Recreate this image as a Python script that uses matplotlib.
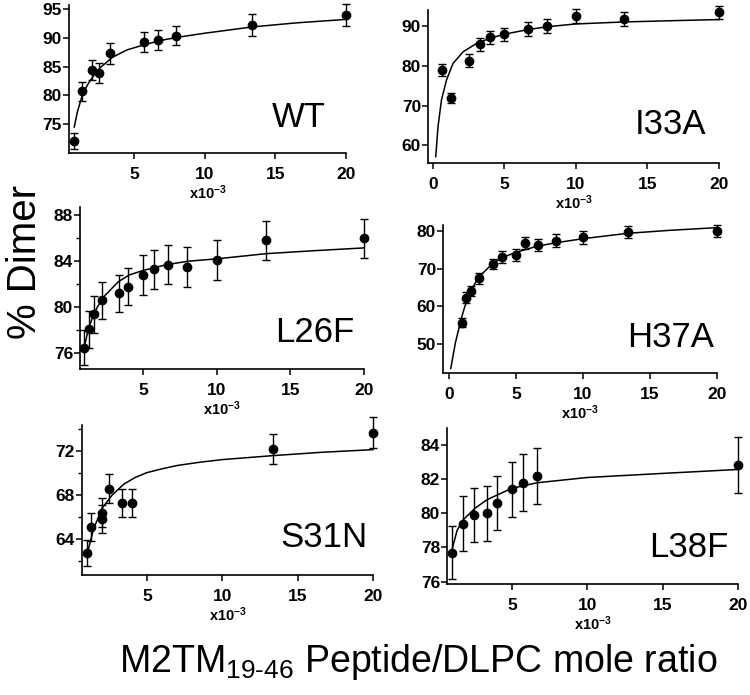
import matplotlib
matplotlib.use("Agg")
from matplotlib import pyplot as plt

plt.rcParams['font.family'] = ['Liberation Sans', 'DejaVu Sans']
plt.rcParams['mathtext.fontset'] = 'custom'
plt.rcParams['mathtext.rm'] = 'Liberation Sans'
plt.rcParams['mathtext.bf'] = 'Liberation Sans:bold'
plt.rcParams['mathtext.default'] = 'regular'

# ---- data (x in units of 1e-3) ----
wt_x = [0.77, 1.33, 2.0, 2.5, 3.33, 5.71, 6.67, 8.0, 13.33, 20.0]
wt_y = [72.1, 80.7, 84.4, 83.9, 87.3, 89.3, 89.6, 90.4, 92.2, 93.9]
wt_err = [1.4, 1.6, 1.7, 1.7, 1.8, 1.7, 1.7, 1.7, 1.9, 1.9]
wt_fit_x = [0.77, 1.0, 1.31, 1.7, 2.1, 2.6, 3.46, 4.5, 5.73, 7.0, 8.1, 10, 13.4, 16.5, 20]
wt_fit_y = [74.5, 77.2, 79.8, 81.8, 83.3, 84.8, 86.6, 87.9, 88.8, 89.6, 90.1, 90.8, 91.9, 92.6, 93.2]

i33a_x = [0.67, 1.25, 2.5, 3.33, 4.0, 5.0, 6.67, 8.0, 10.0, 13.33, 20.0]
i33a_y = [78.9, 71.9, 81.3, 85.4, 87.1, 87.9, 89.2, 90.0, 92.5, 91.8, 93.4]
i33a_err = [1.5, 1.3, 1.6, 1.6, 1.6, 1.7, 1.7, 1.7, 1.7, 1.7, 1.7]
i33a_fit_x = [0.21, 0.37, 0.61, 0.96, 1.42, 2.12, 3.06, 4.0, 4.97, 6.68, 8.0, 10, 13.37, 16.5, 20]
i33a_fit_y = [57.2, 64.7, 71.4, 76.4, 80.6, 83.5, 85.6, 86.9, 87.9, 89.1, 89.8, 90.5, 91.0, 91.3, 91.6]

l26f_x = [1.0, 1.33, 1.67, 2.22, 3.33, 4.0, 5.0, 5.71, 6.67, 8.0, 10.0, 13.33, 20.0]
l26f_y = [76.5, 78.1, 79.4, 80.6, 81.2, 81.8, 82.8, 83.3, 83.7, 83.5, 84.1, 85.8, 86.0]
l26f_err = [1.5, 1.6, 1.6, 1.6, 1.6, 1.6, 1.7, 1.7, 1.7, 1.7, 1.7, 1.7, 1.7]
l26f_fit_x = [1.0, 1.33, 1.67, 2.24, 3.3, 4.05, 5.02, 6.61, 8.09, 10, 13.35, 16.5, 20]
l26f_fit_y = [76.6, 78.3, 79.5, 80.8, 82.2, 82.8, 83.2, 83.7, 84.0, 84.2, 84.65, 84.9, 85.15]

h37a_x = [1.0, 1.25, 1.67, 2.22, 3.33, 4.0, 5.0, 5.71, 6.67, 8.0, 10.0, 13.33, 20.0]
h37a_y = [55.7, 62.3, 64.1, 67.4, 71.2, 73.0, 73.6, 76.8, 76.2, 77.4, 78.2, 79.7, 79.9]
h37a_err = [1.2, 1.4, 1.4, 1.4, 1.4, 1.6, 1.6, 1.6, 1.6, 1.6, 1.6, 1.6, 1.6]
h37a_fit_x = [0.15, 0.5, 0.99, 1.2, 1.64, 2.19, 3.27, 4.01, 4.93, 6.6, 7.97, 10.04, 13.33, 16.5, 20]
h37a_fit_y = [43.6, 50.5, 57.5, 60.0, 64.0, 67.6, 71.3, 72.9, 74.2, 75.9, 76.8, 77.9, 79.3, 80.1, 80.8]

s31n_x = [1.0, 1.25, 2.0, 2.0, 2.5, 3.33, 4.0, 13.33, 20.0]
s31n_y = [62.7, 65.06, 66.4, 65.8, 68.6, 67.3, 67.3, 72.2, 73.7]
s31n_err = [1.2, 1.3, 1.3, 1.3, 1.3, 1.3, 1.3, 1.4, 1.4]
s31n_fit_x = [1.06, 1.45, 2.01, 2.68, 3.46, 4.2, 4.99, 6.0, 6.99, 8.5, 10, 13.33, 16.5, 20]
s31n_fit_y = [62.85, 64.9, 66.8, 68.0, 69.0, 69.6, 70.05, 70.4, 70.7, 71.0, 71.24, 71.6, 71.9, 72.15]

l38f_x = [1.0, 1.75, 2.5, 3.33, 4.0, 5.0, 5.71, 6.67, 20.0]
l38f_y = [77.7, 79.4, 79.9, 80.0, 80.6, 81.4, 81.8, 82.2, 82.85]
l38f_err = [1.55, 1.6, 1.6, 1.6, 1.6, 1.6, 1.65, 1.65, 1.65]
l38f_fit_x = [1.02, 1.37, 1.75, 2.56, 3.36, 4.98, 6.66, 10, 15, 20]
l38f_fit_y = [77.84, 79.0, 79.6, 80.3, 80.8, 81.46, 81.79, 82.1, 82.34, 82.57]

W, H = 750, 695
fig = plt.figure(figsize=(W / 100, H / 100), dpi=100)


def panel(box, x, y, err, fx, fy, xlim, ylim, xticks, yticks, name, name_at, minor=None):
    l, t, r, b = box
    ax = fig.add_axes([l / W, 1 - b / H, (r - l) / W, (b - t) / H])
    ax.plot(fx, fy, color='black', lw=1.1, clip_on=False)
    ax.errorbar(x, y, yerr=err, fmt='o', color='black', ms=6, capsize=3,
                elinewidth=1.0, capthick=1.0, clip_on=False)
    ax.set_xlim(xlim)
    ax.set_ylim(ylim)
    ax.set_xticks(xticks)
    ax.set_yticks(yticks)
    if minor is not None:
        ax.set_yticks(minor, minor=True)
    for s in ['top', 'right']:
        ax.spines[s].set_visible(False)
    for s in ['left', 'bottom']:
        ax.spines[s].set_linewidth(1.2)
    ax.tick_params(direction='out', length=4, width=1.1, labelsize=12.5)
    ax.tick_params(axis='x', pad=6)
    ax.tick_params(axis='y', pad=1)
    ax.tick_params(which='minor', direction='out', length=3, width=1.0)
    for lab in ax.get_xticklabels() + ax.get_yticklabels():
        lab.set_fontweight('bold')
    ax.set_xlabel('x10$^{-3}$', fontsize=10.5, fontweight='bold', labelpad=1)
    fig.text(name_at[0] / W, 1 - name_at[1] / H, name, fontsize=25,
             ha='right', va='baseline')
    return ax


panel((69, 5, 346, 153), wt_x, wt_y, wt_err, wt_fit_x, wt_fit_y,
      (0.4, 20), (70, 95.7), [5, 10, 15, 20], [75, 80, 85, 90, 95], 'WT', (326, 127))
panel((428, 10, 719, 163), i33a_x, i33a_y, i33a_err, i33a_fit_x, i33a_fit_y,
      (-0.33, 20), (55.6, 94), [0, 5, 10, 15, 20], [60, 70, 80, 90], 'I33A', (706, 134))
panel((80, 207, 364, 369), l26f_x, l26f_y, l26f_err, l26f_fit_x, l26f_fit_y,
      (0.71, 20), (74.64, 88.7), [5, 10, 15, 20], [76, 80, 84, 88], 'L26F', (354, 342),
      minor=[78, 82, 86])
panel((443, 225, 717, 373), h37a_x, h37a_y, h37a_err, h37a_fit_x, h37a_fit_y,
      (-0.43, 20), (42.4, 81.5), [0, 5, 10, 15, 20], [50, 60, 70, 80], 'H37A', (714, 347))
panel((82, 425, 373, 575), s31n_x, s31n_y, s31n_err, s31n_fit_x, s31n_fit_y,
      (0.68, 20), (60.7, 74.4), [5, 10, 15, 20], [64, 68, 72], 'S31N', (368, 547),
      minor=[62, 66, 70, 74])
panel((447, 428, 738, 584), l38f_x, l38f_y, l38f_err, l38f_fit_x, l38f_fit_y,
      (0.7, 20), (75.86, 85), [5, 10, 15, 20], [76, 78, 80, 82, 84], 'L38F', (728, 557))

fig.text(25 / W, 1 - 262 / H, '% Dimer', rotation=90, fontsize=29, ha='center', va='center')
fig.text(418 / W, 1 - 672 / H, r'M2TM$_{19\text{-}46}$ Peptide/DLPC mole ratio',
         fontsize=27, ha='center', va='baseline')

fig.savefig('out.png', dpi=100)
